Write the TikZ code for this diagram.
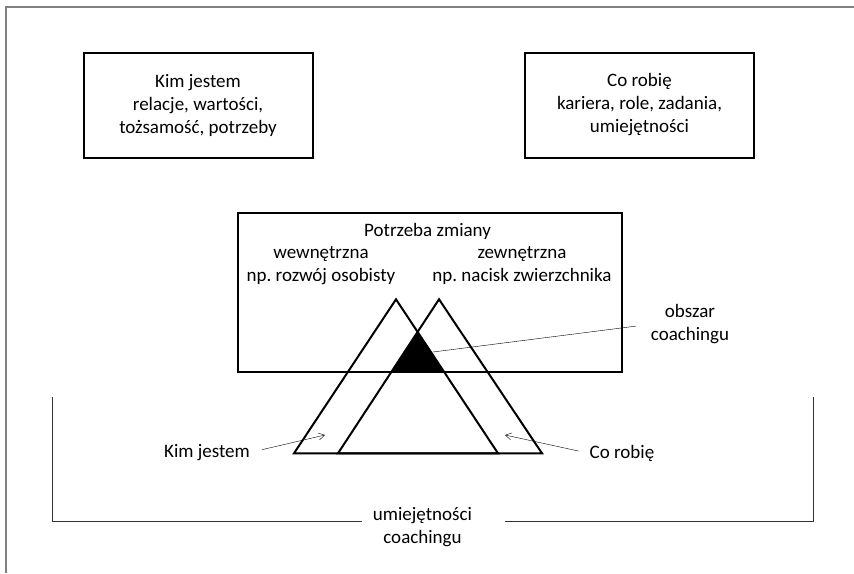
\documentclass[tikz,border=0pt]{standalone}
\usepackage{fontspec}
\setmainfont{Carlito}
\frenchspacing
\usetikzlibrary{arrows.meta}
\tikzset{
  box/.style={draw, line width=2pt, align=center, minimum width=229pt, minimum height=105pt},
  txt/.style={align=center, inner sep=2pt},
  tri/.style={line width=2pt},
  pointer/.style={thin, -{Straight Barb[length=6pt,width=7pt]}},
}
\begin{document}
\begin{tikzpicture}[x=1pt, y=-1pt, font=\fontsize{19}{23}\selectfont]
  \useasboundingbox (0,0) rectangle (854,573);
  % ramka
  \draw[gray, line width=1.5pt] (6,573) -- (6,7) -- (854,7);

  % gorne prostokaty
  \node[box] (kim) at (198,105) {Kim jestem\\relacje, wartości,\\tożsamość, potrzeby};
  \node[box] (co) at (639.5,105) {Co robię\\kariera, role, zadania,\\umiejętności};

  % potrzeba zmiany
  \node[box, minimum width=384pt, minimum height=159pt] (potrzeba) at (430,292.5) {};
  \node[txt] (tytul) at (427.6,231) {Potrzeba zmiany};
  \node[txt] (wew) at (321,266) {wewnętrzna\\np. rozwój osobisty};
  \node[txt] (zew) at (522,266) {zewnętrzna\\np. nacisk zwierzchnika};

  % trojkaty
  \coordinate (lapex) at (396,299.3);
  \coordinate (rapex) at (439,299.3);
  \draw[tri, line join=miter] (294,453.3) -- (lapex) -- (498,453.3) -- cycle;
  \draw[tri, line join=miter] (338,453.3) -- (rapex) -- (542,453.3) -- cycle;
  \fill (417.5,331.8) -- (390.9,372) -- (444.1,372) -- cycle;

  % obszar coachingu
  \coordinate (czarny) at (433,352);
  \node[txt] (obszar) at (690,324.5) {obszar\\coachingu};
  \draw[thin] (czarny) -- (obszar.west) [shorten >=13pt];

  % strzalki
  \coordinate (kimtip) at (325,435);
  \coordinate (cotip) at (505,435);
  \node[txt] (kimlabel) at (207,453) {Kim jestem};
  \node[txt] (colabel) at (622,453) {Co robię};
  \draw[pointer, shorten <=10pt] ([yshift=1pt]kimlabel.east) -- (kimtip);
  \draw[pointer, shorten <=9pt] (colabel.west) -- (cotip);

  % nawias
  \node[txt] (umiej) at (422.5,527) {umiejętności\\coachingu};
  \draw[black!80, line width=1pt] (52.7,397) -- (52.7,521.7) -- (361.7,521.7);
  \draw[black!80, line width=1pt] (505,521.7) -- (813,521.7) -- (813,397);
\end{tikzpicture}
\end{document}
